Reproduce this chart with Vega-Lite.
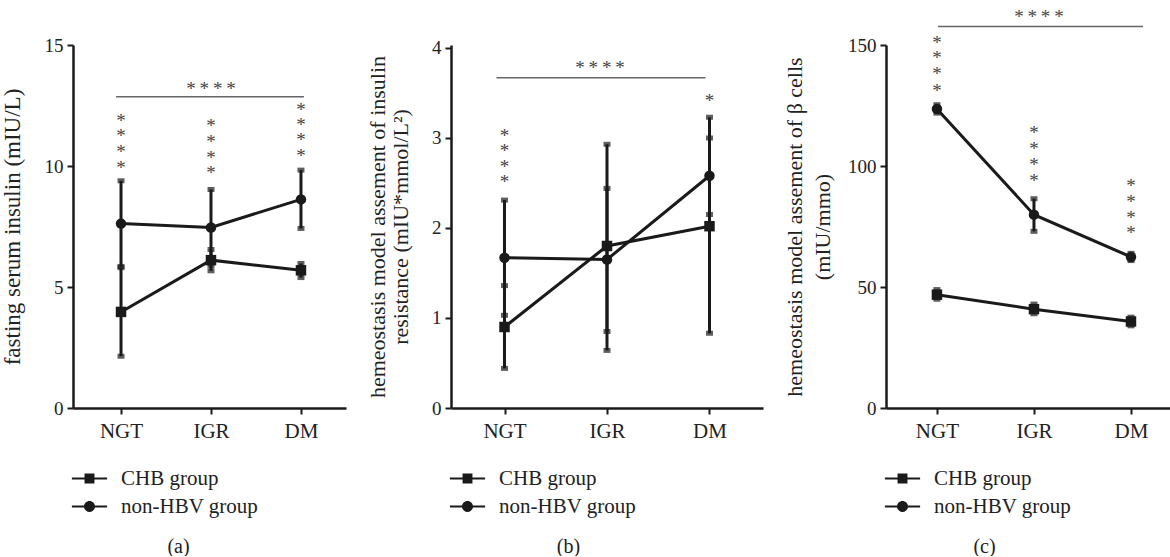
{
  "$schema": "https://vega.github.io/schema/vega-lite/v6.json",
  "padding": {"left": 1, "right": 0, "top": 8, "bottom": 0},
  "bounds": "flush",
  "spacing": 105,
  "background": "white",
  "config": {
    "view": {"stroke": null},
    "font": "Liberation Serif",
    "axis": {
      "grid": false,
      "domainColor": "#1a1a1a",
      "domainWidth": 2.5,
      "tickColor": "#1a1a1a",
      "tickWidth": 2,
      "tickSize": 6,
      "labelFont": "Liberation Serif",
      "labelFontSize": 19,
      "labelColor": "#222",
      "titleFont": "Liberation Serif",
      "titleFontSize": 22,
      "titleFontWeight": "normal",
      "titleColor": "#222"
    },
    "axisX": {"labelAngle": 0, "labelPadding": 6, "labelFontSize": 21, "titleBaseline": "middle", "titleAlign": "center", "titleFontSize": 20},
    "axisY": {"labelPadding": 4, "format": "d"},
    "legend": {"title": null, "orient": "none", "direction": "vertical", "labelFont": "Liberation Serif", "labelFontSize": 21, "labelColor": "#222", "labelOffset": 20, "rowPadding": 6, "symbolSize": 484, "padding": 0,
      "symbolOpacity": 1, "symbolFillColor": "#1a1a1a", "symbolStrokeColor": "#1a1a1a", "symbolStrokeWidth": 1}
  },
  "datasets": {
    "main": [
      {"panel": "a", "cat": "NGT", "group": "CHB group", "mean": 3.97, "lo": 2.14, "hi": 5.8},
      {"panel": "a", "cat": "NGT", "group": "non-HBV group", "mean": 7.62, "lo": 5.85, "hi": 9.39},
      {"panel": "a", "cat": "IGR", "group": "CHB group", "mean": 6.11, "lo": 5.67, "hi": 6.55},
      {"panel": "a", "cat": "IGR", "group": "non-HBV group", "mean": 7.46, "lo": 5.89, "hi": 9.03},
      {"panel": "a", "cat": "DM", "group": "CHB group", "mean": 5.69, "lo": 5.39, "hi": 5.97},
      {"panel": "a", "cat": "DM", "group": "non-HBV group", "mean": 8.62, "lo": 7.42, "hi": 9.83},
      {"panel": "b", "cat": "NGT", "group": "CHB group", "mean": 0.9, "lo": 0.44, "hi": 1.36},
      {"panel": "b", "cat": "NGT", "group": "non-HBV group", "mean": 1.67, "lo": 1.03, "hi": 2.31},
      {"panel": "b", "cat": "IGR", "group": "CHB group", "mean": 1.8, "lo": 0.64, "hi": 2.93},
      {"panel": "b", "cat": "IGR", "group": "non-HBV group", "mean": 1.65, "lo": 0.85, "hi": 2.44},
      {"panel": "b", "cat": "DM", "group": "CHB group", "mean": 2.02, "lo": 0.83, "hi": 3.23},
      {"panel": "b", "cat": "DM", "group": "non-HBV group", "mean": 2.58, "lo": 2.15, "hi": 3.0},
      {"panel": "c", "cat": "NGT", "group": "CHB group", "mean": 46.9, "lo": 45.0, "hi": 49.0},
      {"panel": "c", "cat": "NGT", "group": "non-HBV group", "mean": 123.7, "lo": 122.0, "hi": 125.5},
      {"panel": "c", "cat": "IGR", "group": "CHB group", "mean": 40.9, "lo": 39.0, "hi": 43.0},
      {"panel": "c", "cat": "IGR", "group": "non-HBV group", "mean": 80.0, "lo": 73.1, "hi": 86.6},
      {"panel": "c", "cat": "DM", "group": "CHB group", "mean": 35.8, "lo": 34.0, "hi": 37.6},
      {"panel": "c", "cat": "DM", "group": "non-HBV group", "mean": 62.5, "lo": 61.0, "hi": 64.0}
    ],
    "stars": [
      {"panel": "a", "cat": "NGT", "y": 12.0}, {"panel": "a", "cat": "NGT", "y": 11.35}, {"panel": "a", "cat": "NGT", "y": 10.7}, {"panel": "a", "cat": "NGT", "y": 10.05},
      {"panel": "a", "cat": "IGR", "y": 11.76}, {"panel": "a", "cat": "IGR", "y": 11.12}, {"panel": "a", "cat": "IGR", "y": 10.47}, {"panel": "a", "cat": "IGR", "y": 9.83},
      {"panel": "a", "cat": "DM", "y": 12.45}, {"panel": "a", "cat": "DM", "y": 11.83}, {"panel": "a", "cat": "DM", "y": 11.18}, {"panel": "a", "cat": "DM", "y": 10.52},
      {"panel": "b", "cat": "NGT", "y": 3.06}, {"panel": "b", "cat": "NGT", "y": 2.89}, {"panel": "b", "cat": "NGT", "y": 2.71}, {"panel": "b", "cat": "NGT", "y": 2.54},
      {"panel": "b", "cat": "DM", "y": 3.44},
      {"panel": "c", "cat": "NGT", "y": 152.4}, {"panel": "c", "cat": "NGT", "y": 145.9}, {"panel": "c", "cat": "NGT", "y": 139.3}, {"panel": "c", "cat": "NGT", "y": 132.4},
      {"panel": "c", "cat": "IGR", "y": 115.1}, {"panel": "c", "cat": "IGR", "y": 108.5}, {"panel": "c", "cat": "IGR", "y": 101.6}, {"panel": "c", "cat": "IGR", "y": 95.1},
      {"panel": "c", "cat": "DM", "y": 93.1}, {"panel": "c", "cat": "DM", "y": 86.4}, {"panel": "c", "cat": "DM", "y": 80.0}, {"panel": "c", "cat": "DM", "y": 73.5}
    ],
    "sig": [
      {"panel": "a", "from": "NGT", "to": "DM", "mid": "IGR", "y": 12.86, "ty": 13.3, "label": "*\u2009*\u2009*\u2009*"},
      {"panel": "b", "from": "NGT", "to": "DM", "mid": "IGR", "y": 3.67, "ty": 3.81, "label": "*\u2009*\u2009*\u2009*"},
      {"panel": "c", "from": "NGT", "to": "DM", "mid": "IGR", "y": 157.9, "ty": 163.0, "label": "*\u2009*\u2009*\u2009*"}
    ]
  },
  "resolve": {"scale": {"shape": "independent"}, "legend": {"shape": "independent"}},
  "hconcat": [
    {
      "width": 273,
      "height": 363,
      "encoding": {
        "x": {"field": "cat", "type": "nominal", "sort": null,
          "scale": {"type": "point", "domain": ["NGT", "IGR", "DM"], "padding": 0.517, "align": 0.516},
          "axis": {"title": "(a)", "titleX": 105, "titleY": 138}}
      },
      "layer": [
        {"data": {"name": "main"}, "transform": [{"filter": "datum.panel === 'a'"}],
          "mark": {"type": "rule", "strokeWidth": 3, "color": "#1a1a1a"},
          "encoding": {
            "y": {"field": "lo", "type": "quantitative", "scale": {"domain": [0, 15], "nice": false, "zero": true},
              "axis": {"title": "fasting serum insulin (mIU/L)", "values": [0, 5, 10, 15], "titlePadding": 20, "titleFontSize": 23}},
            "y2": {"field": "hi"}}},
        {"data": {"name": "main"}, "transform": [{"filter": "datum.panel === 'a'"}],
          "mark": {"type": "tick", "orient": "horizontal", "size": 7, "thickness": 5, "color": "#1a1a1a"},
          "encoding": {"y": {"field": "lo", "type": "quantitative"}}},
        {"data": {"name": "main"}, "transform": [{"filter": "datum.panel === 'a'"}],
          "mark": {"type": "tick", "orient": "horizontal", "size": 7, "thickness": 5, "color": "#1a1a1a"},
          "encoding": {"y": {"field": "hi", "type": "quantitative"}}},
        {"data": {"name": "main"}, "transform": [{"filter": "datum.panel === 'a'"}],
          "mark": {"type": "line", "strokeWidth": 3, "color": "#1a1a1a"},
          "encoding": {"y": {"field": "mean", "type": "quantitative"}, "detail": {"field": "group"}}},
        {"data": {"name": "main"}, "transform": [{"filter": "datum.panel === 'a'"}],
          "mark": {"type": "point", "filled": true, "size": 110, "color": "#1a1a1a", "opacity": 1},
          "encoding": {"y": {"field": "mean", "type": "quantitative"},
            "shape": {"condition": {"test": "datum.group === 'CHB group'", "value": "square"}, "value": "circle"}}},
        {"data": {"name": "main"}, "transform": [{"filter": "datum.panel === 'a'"}],
          "mark": {"type": "point", "size": 0, "filled": true, "color": "#1a1a1a", "opacity": 0},
          "encoding": {"y": {"field": "mean", "type": "quantitative"},
            "shape": {"field": "group", "type": "nominal",
              "scale": {"range": ["M-1.6,-0.1L1.6,-0.1L1.6,0.1L-1.6,0.1ZM-0.45,-0.45L0.45,-0.45L0.45,0.45L-0.45,0.45Z", "M-1.6,-0.1L1.6,-0.1L1.6,0.1L-1.6,0.1ZM0.5,0A0.5,0.5,0,1,1,-0.5,0A0.5,0.5,0,1,1,0.5,0Z"]},
              "legend": {"legendX": 5, "legendY": 422, "symbolOpacity": 1, "symbolFillColor": "#1a1a1a"}}}},
        {"data": {"name": "stars"}, "transform": [{"filter": "datum.panel === 'a'"}],
          "mark": {"type": "text", "text": "*", "fontSize": 19, "color": "#444", "baseline": "alphabetic", "dy": 9, "font": "Liberation Serif"},
          "encoding": {"y": {"field": "y", "type": "quantitative"}}},
        {"data": {"name": "sig"}, "transform": [{"filter": "datum.panel === 'a'"}],
          "mark": {"type": "rule", "strokeWidth": 1.5, "color": "#666", "xOffset": -5, "x2Offset": 3},
          "encoding": {"x": {"field": "from", "type": "nominal"}, "x2": {"field": "to"}, "y": {"field": "y", "type": "quantitative"}}},
        {"data": {"name": "sig"}, "transform": [{"filter": "datum.panel === 'a'"}],
          "mark": {"type": "text", "fontSize": 19, "color": "#444", "baseline": "alphabetic", "dy": 9, "font": "Liberation Serif"},
          "encoding": {"x": {"field": "mid", "type": "nominal"}, "y": {"field": "ty", "type": "quantitative"}, "text": {"field": "label"}}}
      ]
    },
    {
      "bounds": "flush",
      "spacing": 123,
      "resolve": {"scale": {"shape": "independent"}, "legend": {"shape": "independent"}},
      "hconcat": [
        {
          "width": 312,
          "height": 363,
          "encoding": {
            "x": {"field": "cat", "type": "nominal", "sort": null,
              "scale": {"type": "point", "domain": ["NGT", "IGR", "DM"], "padding": 0.522, "align": 0.5},
              "axis": {"title": "(b)", "titleX": 117, "titleY": 138}}
          },
          "layer": [
            {"data": {"name": "main"}, "transform": [{"filter": "datum.panel === 'b'"}],
              "mark": {"type": "rule", "strokeWidth": 3, "color": "#1a1a1a"},
              "encoding": {
                "y": {"field": "lo", "type": "quantitative", "scale": {"domain": [0, 4.033], "nice": false, "zero": true},
                  "axis": {"title": ["hemeostasis model assement of insulin", "resistance (mIU*mmol/L²)"], "values": [0, 1, 2, 3, 4], "titlePadding": 19, "titleLineHeight": 23}},
                "y2": {"field": "hi"}}},
            {"data": {"name": "main"}, "transform": [{"filter": "datum.panel === 'b'"}],
              "mark": {"type": "tick", "orient": "horizontal", "size": 7, "thickness": 5, "color": "#1a1a1a"},
              "encoding": {"y": {"field": "lo", "type": "quantitative"}}},
            {"data": {"name": "main"}, "transform": [{"filter": "datum.panel === 'b'"}],
              "mark": {"type": "tick", "orient": "horizontal", "size": 7, "thickness": 5, "color": "#1a1a1a"},
              "encoding": {"y": {"field": "hi", "type": "quantitative"}}},
            {"data": {"name": "main"}, "transform": [{"filter": "datum.panel === 'b'"}],
              "mark": {"type": "line", "strokeWidth": 3, "color": "#1a1a1a"},
              "encoding": {"y": {"field": "mean", "type": "quantitative"}, "detail": {"field": "group"}}},
            {"data": {"name": "main"}, "transform": [{"filter": "datum.panel === 'b'"}],
              "mark": {"type": "point", "filled": true, "size": 110, "color": "#1a1a1a", "opacity": 1},
              "encoding": {"y": {"field": "mean", "type": "quantitative"},
                "shape": {"condition": {"test": "datum.group === 'CHB group'", "value": "square"}, "value": "circle"}}},
            {"data": {"name": "main"}, "transform": [{"filter": "datum.panel === 'b'"}],
              "mark": {"type": "point", "size": 0, "filled": true, "color": "#1a1a1a", "opacity": 0},
              "encoding": {"y": {"field": "mean", "type": "quantitative"},
                "shape": {"field": "group", "type": "nominal",
                  "scale": {"range": ["M-1.6,-0.1L1.6,-0.1L1.6,0.1L-1.6,0.1ZM-0.45,-0.45L0.45,-0.45L0.45,0.45L-0.45,0.45Z", "M-1.6,-0.1L1.6,-0.1L1.6,0.1L-1.6,0.1ZM0.5,0A0.5,0.5,0,1,1,-0.5,0A0.5,0.5,0,1,1,0.5,0Z"]},
                  "legend": {"legendX": 5, "legendY": 422, "symbolOpacity": 1, "symbolFillColor": "#1a1a1a"}}}},
            {"data": {"name": "stars"}, "transform": [{"filter": "datum.panel === 'b'"}],
              "mark": {"type": "text", "text": "*", "fontSize": 19, "color": "#444", "baseline": "alphabetic", "dy": 9, "font": "Liberation Serif"},
              "encoding": {"y": {"field": "y", "type": "quantitative"}}},
            {"data": {"name": "sig"}, "transform": [{"filter": "datum.panel === 'b'"}],
              "mark": {"type": "rule", "strokeWidth": 1.5, "color": "#666", "xOffset": -8, "x2Offset": -4},
              "encoding": {"x": {"field": "from", "type": "nominal"}, "x2": {"field": "to"}, "y": {"field": "y", "type": "quantitative"}}},
            {"data": {"name": "sig"}, "transform": [{"filter": "datum.panel === 'b'"}],
              "mark": {"type": "text", "fontSize": 19, "color": "#444", "baseline": "alphabetic", "dy": 9, "xOffset": -7, "font": "Liberation Serif"},
              "encoding": {"x": {"field": "mid", "type": "nominal"}, "y": {"field": "ty", "type": "quantitative"}, "text": {"field": "label"}}}
          ]
        },
        {
          "width": 287,
          "height": 363,
          "encoding": {
            "x": {"field": "cat", "type": "nominal", "sort": null,
              "scale": {"type": "point", "domain": ["NGT", "IGR", "DM"], "padding": 0.479, "align": 0.548},
              "axis": {"title": "(c)", "titleX": 98, "titleY": 138}}
          },
          "layer": [
            {"data": {"name": "main"}, "transform": [{"filter": "datum.panel === 'c'"}],
              "mark": {"type": "rule", "strokeWidth": 3, "color": "#1a1a1a"},
              "encoding": {
                "y": {"field": "lo", "type": "quantitative", "scale": {"domain": [0, 150.2], "nice": false, "zero": true},
                  "axis": {"title": ["hemeostasis model assement of β cells", "(mIU/mmo)"], "values": [0, 50, 100, 150], "titlePadding": 13, "titleLineHeight": 28}},
                "y2": {"field": "hi"}}},
            {"data": {"name": "main"}, "transform": [{"filter": "datum.panel === 'c'"}],
              "mark": {"type": "tick", "orient": "horizontal", "size": 7, "thickness": 5, "color": "#1a1a1a"},
              "encoding": {"y": {"field": "lo", "type": "quantitative"}}},
            {"data": {"name": "main"}, "transform": [{"filter": "datum.panel === 'c'"}],
              "mark": {"type": "tick", "orient": "horizontal", "size": 7, "thickness": 5, "color": "#1a1a1a"},
              "encoding": {"y": {"field": "hi", "type": "quantitative"}}},
            {"data": {"name": "main"}, "transform": [{"filter": "datum.panel === 'c'"}],
              "mark": {"type": "line", "strokeWidth": 3, "color": "#1a1a1a"},
              "encoding": {"y": {"field": "mean", "type": "quantitative"}, "detail": {"field": "group"}}},
            {"data": {"name": "main"}, "transform": [{"filter": "datum.panel === 'c'"}],
              "mark": {"type": "point", "filled": true, "size": 110, "color": "#1a1a1a", "opacity": 1},
              "encoding": {"y": {"field": "mean", "type": "quantitative"},
                "shape": {"condition": {"test": "datum.group === 'CHB group'", "value": "square"}, "value": "circle"}}},
            {"data": {"name": "main"}, "transform": [{"filter": "datum.panel === 'c'"}],
              "mark": {"type": "point", "size": 0, "filled": true, "color": "#1a1a1a", "opacity": 0},
              "encoding": {"y": {"field": "mean", "type": "quantitative"},
                "shape": {"field": "group", "type": "nominal",
                  "scale": {"range": ["M-1.6,-0.1L1.6,-0.1L1.6,0.1L-1.6,0.1ZM-0.45,-0.45L0.45,-0.45L0.45,0.45L-0.45,0.45Z", "M-1.6,-0.1L1.6,-0.1L1.6,0.1L-1.6,0.1ZM0.5,0A0.5,0.5,0,1,1,-0.5,0A0.5,0.5,0,1,1,0.5,0Z"]},
                  "legend": {"legendX": 5, "legendY": 422, "symbolOpacity": 1, "symbolFillColor": "#1a1a1a"}}}},
            {"data": {"name": "stars"}, "transform": [{"filter": "datum.panel === 'c'"}],
              "mark": {"type": "text", "text": "*", "fontSize": 19, "color": "#444", "baseline": "alphabetic", "dy": 9, "font": "Liberation Serif"},
              "encoding": {"y": {"field": "y", "type": "quantitative"}}},
            {"data": {"name": "sig"}, "transform": [{"filter": "datum.panel === 'c'"}],
              "mark": {"type": "rule", "strokeWidth": 1.5, "color": "#666", "xOffset": 1, "x2Offset": 12},
              "encoding": {"x": {"field": "from", "type": "nominal"}, "x2": {"field": "to"}, "y": {"field": "y", "type": "quantitative"}}},
            {"data": {"name": "sig"}, "transform": [{"filter": "datum.panel === 'c'"}],
              "mark": {"type": "text", "fontSize": 19, "color": "#444", "baseline": "alphabetic", "dy": 9, "xOffset": 5, "font": "Liberation Serif"},
              "encoding": {"x": {"field": "mid", "type": "nominal"}, "y": {"field": "ty", "type": "quantitative"}, "text": {"field": "label"}}}
          ]
        }
      ]
    }
  ]
}
